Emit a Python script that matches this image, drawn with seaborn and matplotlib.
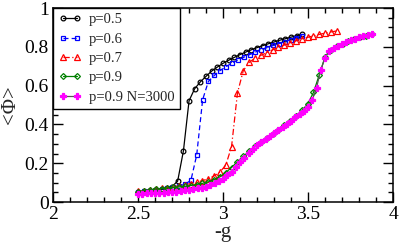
import matplotlib
matplotlib.use("Agg")
import matplotlib.pyplot as plt
import matplotlib.ticker as mticker
import pandas as pd
import seaborn as sns

# ---------------------------------------------------------------------------
# Data
# ---------------------------------------------------------------------------
g_p05 = [2.500, 2.533, 2.567, 2.600, 2.633, 2.667, 2.700, 2.733, 2.767, 2.800,
         2.833, 2.867, 2.900, 2.933, 2.967, 3.000, 3.033, 3.067, 3.100, 3.133,
         3.167, 3.200, 3.233, 3.267, 3.300, 3.333, 3.367, 3.400, 3.433, 3.467]
phi_p05 = [0.050, 0.053, 0.056, 0.060, 0.064, 0.069, 0.080, 0.108, 0.264, 0.522,
           0.584, 0.620, 0.648, 0.675, 0.696, 0.715, 0.731, 0.746, 0.760, 0.773,
           0.785, 0.796, 0.806, 0.816, 0.825, 0.834, 0.842, 0.850, 0.857, 0.864]

g_p06 = [2.500, 2.535, 2.569, 2.604, 2.638, 2.673, 2.707, 2.742, 2.776, 2.811,
         2.845, 2.880, 2.914, 2.949, 2.983, 3.018, 3.052, 3.087, 3.121, 3.156,
         3.190, 3.225, 3.259, 3.294, 3.328, 3.363, 3.397, 3.432, 3.466]
phi_p06 = [0.052, 0.055, 0.058, 0.062, 0.066, 0.071, 0.076, 0.083, 0.092, 0.112,
           0.242, 0.528, 0.622, 0.653, 0.678, 0.698, 0.716, 0.732, 0.746, 0.760,
           0.773, 0.785, 0.796, 0.807, 0.817, 0.827, 0.837, 0.847, 0.858]

g_p07 = [2.500, 2.534, 2.569, 2.603, 2.638, 2.672, 2.706, 2.741, 2.775, 2.810,
         2.844, 2.878, 2.913, 2.947, 2.982, 3.016, 3.050, 3.085, 3.119, 3.154,
         3.188, 3.222, 3.257, 3.291, 3.326, 3.360, 3.394, 3.429, 3.463, 3.498,
         3.532, 3.566, 3.601, 3.635, 3.670]
phi_p07 = [0.055, 0.058, 0.062, 0.066, 0.070, 0.074, 0.079, 0.084, 0.089, 0.095,
           0.102, 0.110, 0.120, 0.134, 0.155, 0.190, 0.285, 0.563, 0.677, 0.720,
           0.742, 0.756, 0.770, 0.784, 0.797, 0.809, 0.820, 0.831, 0.841, 0.849,
           0.857, 0.864, 0.871, 0.877, 0.882]

g_p09 = [2.500, 2.534, 2.569, 2.603, 2.638, 2.672, 2.706, 2.741, 2.775, 2.810,
         2.844, 2.878, 2.913, 2.947, 2.982, 3.016, 3.050, 3.085, 3.119, 3.154,
         3.188, 3.222, 3.257, 3.291, 3.326, 3.360, 3.394, 3.429, 3.463, 3.498,
         3.532, 3.566, 3.601, 3.635, 3.670, 3.704, 3.738, 3.773, 3.807, 3.842,
         3.876]
phi_p09 = [0.052, 0.058, 0.062, 0.066, 0.069, 0.072, 0.075, 0.078, 0.081, 0.085,
           0.090, 0.096, 0.104, 0.115, 0.130, 0.152, 0.178, 0.208, 0.236, 0.262,
           0.288, 0.310, 0.330, 0.352, 0.373, 0.396, 0.420, 0.444, 0.472, 0.505,
           0.565, 0.655, 0.750, 0.786, 0.802, 0.816, 0.828, 0.840, 0.850, 0.858,
           0.865]

g_n3000 = [2.500, 2.525, 2.550, 2.575, 2.600, 2.625, 2.650, 2.675, 2.700, 2.725,
           2.750, 2.775, 2.800, 2.825, 2.850, 2.875, 2.900, 2.925, 2.950, 2.975,
           3.000, 3.025, 3.050, 3.075, 3.100, 3.125, 3.150, 3.175, 3.200, 3.225,
           3.250, 3.275, 3.300, 3.325, 3.350, 3.375, 3.400, 3.425, 3.450, 3.475,
           3.500, 3.525, 3.550, 3.575, 3.600, 3.625, 3.650, 3.675, 3.700, 3.725,
           3.750, 3.775, 3.800, 3.825, 3.850, 3.875]
phi_n3000 = [0.042, 0.043, 0.044, 0.045, 0.046, 0.047, 0.048, 0.050, 0.052, 0.054,
             0.057, 0.060, 0.063, 0.066, 0.070, 0.074, 0.080, 0.087, 0.096, 0.107,
             0.120, 0.137, 0.157, 0.180, 0.205, 0.229, 0.251, 0.273, 0.294, 0.311,
             0.325, 0.339, 0.354, 0.370, 0.387, 0.402, 0.418, 0.437, 0.455, 0.470,
             0.488, 0.526, 0.590, 0.680, 0.745, 0.780, 0.795, 0.806, 0.816, 0.826,
             0.835, 0.843, 0.851, 0.858, 0.863, 0.867]

x_ticks = [2, 2.5, 3, 3.5, 4]
y_ticks = [0, 0.2, 0.4, 0.6, 0.8, 1]

# label, x, y, line color, linestyle, marker, marker size, marker face, marker edge
series = [
    ("p=0.5", g_p05, phi_p05, "black", "-", "o", 3.4, "none", "black"),
    ("p=0.6", g_p06, phi_p06, "blue", (0, (4, 2.5)), "s", 3.2, "none", "blue"),
    ("p=0.7", g_p07, phi_p07, "red", (0, (5, 2, 1, 2)), "^", 3.8, "none", "red"),
    ("p=0.9", g_p09, phi_p09, "green", "-", "D", 3.0, "none", "green"),
    ("p=0.9 N=3000", g_n3000, phi_n3000, "#555555", "-", "P", 4.3, "magenta", "magenta"),
]

# ---------------------------------------------------------------------------
# Plot
# ---------------------------------------------------------------------------
sns.set_style("ticks")
plt.rcParams["font.family"] = ["Liberation Serif", "DejaVu Serif"]

fig = plt.figure(figsize=(3.99, 2.44), dpi=100)
ax = fig.add_axes([0.133, 0.172, 0.852, 0.795])

for label, gx, py, color, ls, mk, ms, mfc, mec in series:
    df = pd.DataFrame({"g": gx, "phi": py})
    sns.lineplot(
        data=df, x="g", y="phi", ax=ax, sort=False, label=label,
        color=color, linestyle=ls, linewidth=0.9,
        marker=mk, markersize=ms, markerfacecolor=mfc,
        markeredgecolor=mec, markeredgewidth=0.9,
    )

ax.set_xlim(2, 4)
ax.set_ylim(0, 1)
ax.set_xticks(x_ticks)
ax.set_yticks(y_ticks)
ax.xaxis.set_minor_locator(mticker.MultipleLocator(0.1))
ax.yaxis.set_minor_locator(mticker.MultipleLocator(0.05))
fmt = mticker.FuncFormatter(lambda v, pos: f"{v:g}")
ax.xaxis.set_major_formatter(fmt)
ax.yaxis.set_major_formatter(fmt)
ax.tick_params(which="both", direction="in", top=True, right=True,
               colors="black", labelsize=14, width=1.0)
ax.tick_params(which="major", length=7, pad=3)
ax.tick_params(which="minor", length=3.5)
for sp in ax.spines.values():
    sp.set_linewidth(1.1)
    sp.set_color("black")

ax.set_xlabel("-g", fontsize=15, labelpad=0)
ax.set_ylabel("<Φ>", fontsize=15, labelpad=3)

leg = ax.legend(
    loc="upper left", bbox_to_anchor=(0, 1), borderaxespad=0,
    frameon=True, fancybox=False, framealpha=1, edgecolor="black",
    fontsize=10.5, numpoints=2, handlelength=1.6, handletextpad=0.5,
    labelspacing=0.42, borderpad=0.35,
)
leg.get_frame().set_linewidth(1.0)

fig.savefig("out.png", dpi=100)
